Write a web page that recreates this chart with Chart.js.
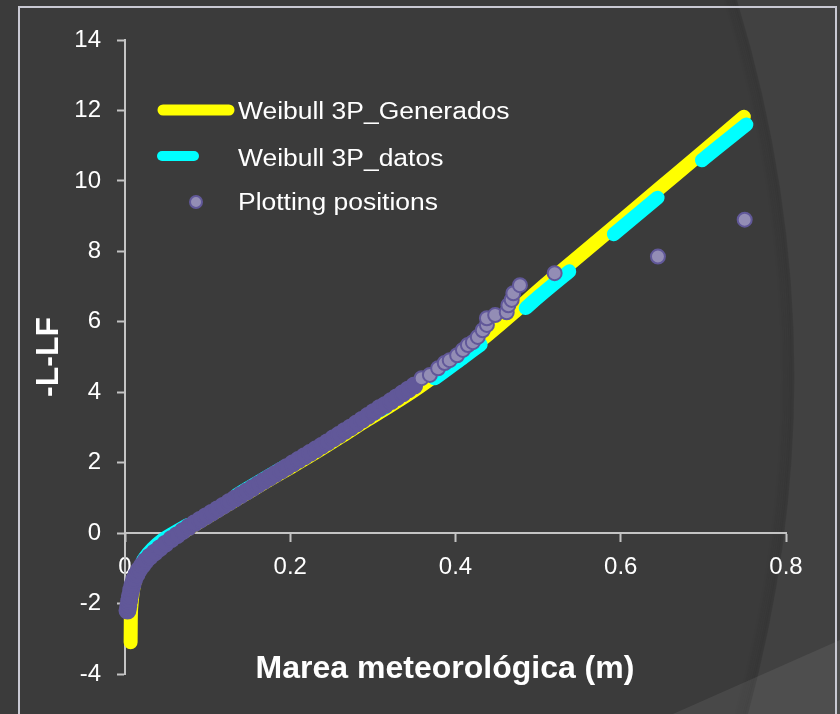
<!DOCTYPE html>
<html>
<head>
<meta charset="utf-8">
<script src="https://cdn.jsdelivr.net/npm/chart.js@4.4.1/dist/chart.umd.min.js"></script>
<style>
  html, body { margin: 0; padding: 0; background: #3b3b3b; }
  canvas { display: block; }
</style>
</head>
<body>
<canvas id="chart" width="840" height="714"></canvas>
<script>
// values
const xTicks = [0, 0.2, 0.4, 0.6, 0.8];
const yTicks = [-4, -2, 0, 2, 4, 6, 8, 10, 12, 14];
const seriesNames = ['Weibull 3P_Generados', 'Weibull 3P_datos', 'Plotting positions'];
const xTitle = 'Marea meteorológica (m)';
const yTitle = '-L-LF';

// Weibull 3P_Generados (yellow)
const genX = [0.0068, 0.0070, 0.0078, 0.0095, 0.013, 0.019, 0.027, 0.037, 0.051, 0.070,
              0.090, 0.115, 0.140, 0.170, 0.200, 0.230, 0.260, 0.290, 0.320, 0.350,
              0.380, 0.410, 0.440, 0.470, 0.500, 0.550, 0.600, 0.650, 0.700, 0.749];
const genY = [-3.10, -2.50, -2.05, -1.65, -1.28, -0.98, -0.72, -0.47, -0.22, 0.02,
              0.32, 0.68, 1.03, 1.45, 1.86, 2.28, 2.72, 3.17, 3.60, 4.05,
              4.55, 5.08, 5.65, 6.25, 6.88, 7.87, 8.86, 9.85, 10.84, 11.82];

// Weibull 3P_datos (cyan, dashed)
const datX = [0.0055, 0.0065, 0.0085, 0.012, 0.017, 0.024, 0.033, 0.045, 0.060, 0.080,
              0.105, 0.135, 0.165, 0.200, 0.235, 0.270, 0.305, 0.350, 0.380, 0.410,
              0.440, 0.470, 0.500, 0.550, 0.600, 0.650, 0.700, 0.752];
const datY = [-2.30, -2.00, -1.70, -1.30, -0.97, -0.70, -0.45, -0.20, 0.02, 0.29,
              0.66, 1.08, 1.50, 1.98, 2.47, 2.98, 3.45, 4.00, 4.48, 5.00,
              5.52, 6.08, 6.70, 7.67, 8.65, 9.63, 10.62, 11.60];

// Plotting positions (purple markers)
const posX = [0.003, 0.004, 0.005, 0.006, 0.0075, 0.009, 0.011, 0.014, 0.017, 0.021,
              0.025, 0.030, 0.036, 0.042, 0.049, 0.056, 0.063, 0.070, 0.077, 0.084,
              0.091, 0.098, 0.105, 0.112, 0.119, 0.126, 0.133, 0.140, 0.147, 0.154,
              0.161, 0.168, 0.175, 0.182, 0.189, 0.196, 0.203, 0.210, 0.217, 0.224,
              0.231, 0.238, 0.245, 0.252, 0.259, 0.266, 0.273, 0.280, 0.287, 0.294,
              0.301, 0.308, 0.315, 0.322, 0.329, 0.336, 0.343, 0.350, 0.359, 0.369,
              0.379, 0.387, 0.393, 0.402, 0.409, 0.415, 0.421, 0.427, 0.433, 0.438,
              0.438, 0.448, 0.462, 0.464, 0.468, 0.470, 0.478, 0.520, 0.645, 0.750];
const posY = [-2.20, -2.08, -1.93, -1.78, -1.62, -1.47, -1.32, -1.17, -1.04, -0.91,
              -0.79, -0.67, -0.55, -0.43, -0.30, -0.17, -0.06, 0.06, 0.17, 0.28,
              0.38, 0.48, 0.58, 0.68, 0.78, 0.88, 0.98, 1.08, 1.18, 1.28,
              1.38, 1.48, 1.58, 1.68, 1.78, 1.88, 1.98, 2.08, 2.18, 2.28,
              2.38, 2.48, 2.58, 2.69, 2.79, 2.90, 3.00, 3.11, 3.22, 3.33,
              3.44, 3.55, 3.64, 3.75, 3.86, 3.97, 4.08, 4.19, 4.40, 4.49,
              4.68, 4.83, 4.91, 5.05, 5.20, 5.34, 5.42, 5.57, 5.76, 5.91,
              6.10, 6.19, 6.27, 6.47, 6.62, 6.81, 7.04, 7.38, 7.85, 8.90];

const toPoints = (xs, ys) => xs.map((x, i) => ({ x: x, y: ys[i] }));

const YELLOW = '#ffff00';
const CYAN = '#00ffff';
const DOT_FILL = '#938db5';
const DOT_EDGE = '#615899';
const AXIS = '#c4c4c4';
const FONT = '"Liberation Sans", Arial, sans-serif';
const DENSE_BELOW = 4.3; // markers overlap so much here that only their edges show

// background, frame, axis titles and the legend
const decor = {
    id: 'decor',
    beforeDraw(chart) {
        const ctx = chart.ctx;
        ctx.save();
        ctx.fillStyle = '#3b3b3b';
        ctx.fillRect(0, 0, 840, 714);
        // lighter band on the right, behind a curved edge
        ctx.beginPath();
        ctx.moveTo(737, 0);
        ctx.quadraticCurveTo(846, 357, 748, 714);
        ctx.lineTo(840, 714);
        ctx.lineTo(840, 0);
        ctx.closePath();
        ctx.fillStyle = '#414141';
        ctx.fill();
        // soft shadow on the left of the curve
        for (let i = 1; i <= 6; i++) {
            ctx.beginPath();
            ctx.moveTo(737 - i * 2, 0);
            ctx.quadraticCurveTo(846 - i * 2, 357, 748 - i * 2, 714);
            ctx.lineWidth = 3;
            ctx.strokeStyle = 'rgba(0,0,0,' + (0.05 - i * 0.006) + ')';
            ctx.stroke();
        }
        // lighter triangle at the bottom right
        ctx.beginPath();
        ctx.moveTo(673, 714);
        ctx.lineTo(840, 640);
        ctx.lineTo(840, 714);
        ctx.closePath();
        ctx.fillStyle = 'rgba(255,255,255,0.07)';
        ctx.fill();
        // frame
        ctx.beginPath();
        ctx.moveTo(19, 730);
        ctx.lineTo(19, 7);
        ctx.lineTo(836, 7);
        ctx.lineTo(836, 730);
        ctx.lineWidth = 2;
        ctx.strokeStyle = '#c9c9d3';
        ctx.stroke();
        ctx.restore();
    },
    afterDraw(chart) {
        const ctx = chart.ctx;
        ctx.save();
        ctx.fillStyle = '#ffffff';
        ctx.font = 'bold 32px ' + FONT;
        ctx.textAlign = 'center';
        ctx.textBaseline = 'alphabetic';
        ctx.fillText(xTitle, 445, 678);
        ctx.save();
        ctx.translate(46, 357);
        ctx.rotate(-Math.PI / 2);
        ctx.fillText(yTitle, 0, 11.5);
        ctx.restore();

        // legend
        const ds = chart.data.datasets;
        ctx.lineCap = 'round';
        ctx.strokeStyle = ds[2].borderColor;
        ctx.lineWidth = 11;
        ctx.beginPath(); ctx.moveTo(163, 110); ctx.lineTo(229, 110); ctx.stroke();
        ctx.strokeStyle = ds[1].borderColor;
        ctx.lineWidth = 10;
        ctx.beginPath(); ctx.moveTo(162, 156); ctx.lineTo(194, 156); ctx.stroke();
        ctx.beginPath();
        ctx.arc(196, 202, 6, 0, Math.PI * 2);
        ctx.fillStyle = DOT_FILL; ctx.fill();
        ctx.lineWidth = 2; ctx.strokeStyle = DOT_EDGE; ctx.stroke();

        ctx.fillStyle = '#ffffff';
        ctx.font = '23px ' + FONT;
        ctx.textAlign = 'left';
        const rows = [[seriesNames[0], 119], [seriesNames[1], 166], [seriesNames[2], 210]];
        rows.forEach(([t, y]) => {
            ctx.save();
            ctx.translate(238, y);
            ctx.scale(1.15, 1);
            ctx.fillText(t, 0, 0);
            ctx.restore();
        });
        ctx.restore();
    }
};

new Chart('chart', {
    type: 'scatter',
    plugins: [decor],
    data: {
        datasets: [
            {
                label: seriesNames[2],
                data: toPoints(posX, posY),
                showLine: false,
                pointRadius: (c) => (c.raw && c.raw.y < DENSE_BELOW ? 8 : 7),
                pointBorderWidth: 2,
                pointBorderColor: DOT_EDGE,
                pointBackgroundColor: (c) => (c.raw && c.raw.y < DENSE_BELOW ? DOT_EDGE : DOT_FILL),
                order: 0,
                clip: false,
            },
            {
                label: seriesNames[1],
                // drawn from the upper end so the dash pattern starts there
                data: toPoints(datX, datY).reverse(),
                showLine: true,
                borderColor: CYAN,
                borderWidth: 14,
                borderDash: [57, 58],
                borderCapStyle: 'round',
                borderJoinStyle: 'round',
                cubicInterpolationMode: 'monotone',
                pointRadius: 0,
                order: 1,
                clip: false,
            },
            {
                label: seriesNames[0],
                data: toPoints(genX, genY),
                showLine: true,
                borderColor: YELLOW,
                borderWidth: 14,
                borderCapStyle: 'round',
                borderJoinStyle: 'round',
                cubicInterpolationMode: 'monotone',
                pointRadius: 0,
                order: 2,
                clip: false,
            },
        ],
    },
    options: {
        responsive: false,
        animation: false,
        devicePixelRatio: 1,
        events: [],
        layout: { padding: { left: 0, top: 40, right: 54, bottom: 40 } },
        plugins: { legend: { display: false }, tooltip: { enabled: false } },
        scales: {
            x: {
                type: 'linear',
                position: { y: 0 },
                min: xTicks[0],
                max: xTicks[xTicks.length - 1],
                afterBuildTicks: (s) => { s.ticks = xTicks.map((v) => ({ value: v })); },
                afterFit: (s) => { s.height = 0; },
                grid: { drawOnChartArea: false, drawTicks: true, tickLength: 8, tickWidth: 2, color: AXIS },
                border: { color: AXIS, width: 2 },
                ticks: { color: '#ffffff', padding: 12, font: { family: FONT, size: 24 } },
            },
            y: {
                type: 'linear',
                position: 'left',
                min: yTicks[0],
                max: yTicks[yTicks.length - 1],
                afterBuildTicks: (s) => { s.ticks = yTicks.map((v) => ({ value: v })); },
                afterFit: (s) => { s.width = 125; },
                grid: { drawOnChartArea: false, drawTicks: true, tickLength: 8, tickWidth: 2, color: AXIS },
                border: { color: AXIS, width: 2 },
                ticks: { color: '#ffffff', padding: 16, font: { family: FONT, size: 24 } },
            },
        },
    },
});
</script>
</body>
</html>
